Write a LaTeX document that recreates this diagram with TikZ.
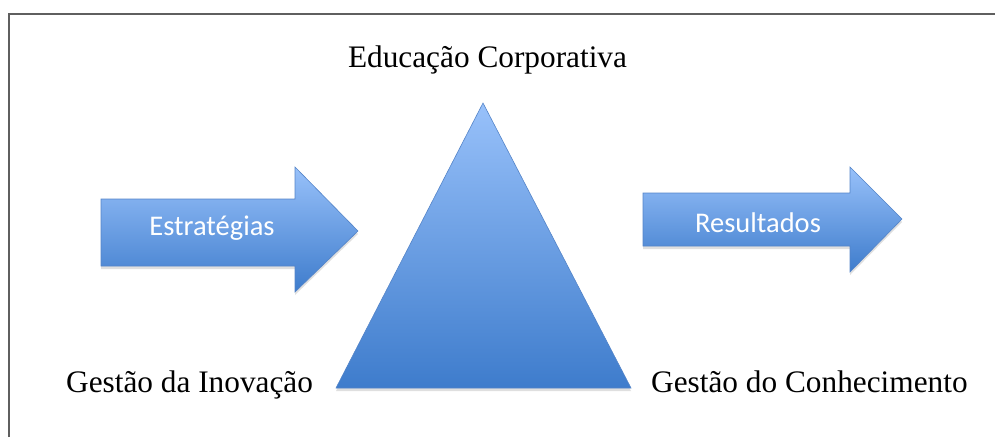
\documentclass[tikz,border=0pt]{standalone}
\usepackage{fontspec}
\setmainfont{Liberation Serif}
\newfontfamily\arrowfont{Carlito}
\usetikzlibrary{shadows}
\definecolor{shapetop}{RGB}{152,193,250}
\definecolor{shapebot}{RGB}{62,124,204}
\definecolor{shapeline}{RGB}{84,132,200}
\definecolor{framegray}{RGB}{95,95,95}
\tikzset{
  bluefill/.style={top color=shapetop, bottom color=shapebot, draw=shapeline, line width=0.6pt, line join=miter,
    drop shadow={opacity=0.25, shadow xshift=0pt, shadow yshift=-3pt}},
  serifl/.style={font=\fontsize{31.3}{35}\selectfont, inner sep=0pt},
  arrowlbl/.style={font=\arrowfont\fontsize{28.5}{31}\selectfont, text=white, inner sep=0pt},
  framestyle/.style={draw=framegray, line width=2pt}
}
\begin{document}
\begin{tikzpicture}[x=1pt,y=-1pt]
\useasboundingbox (0,0) rectangle (995,437);
% frame (top and left edges visible)
\coordinate (fbl) at (8.5,437);
\coordinate (ftl) at (8.5,14);
\coordinate (ftr) at (995,14);
\draw[framestyle] (fbl) -- (ftl) -- (ftr);
% left arrow
\path[bluefill] (101,199) -- (295,199) -- (295,167) -- (358,231) -- (295,292) -- (295,266) -- (101,266) -- cycle;
% right arrow
\path[bluefill] (643,193) -- (850,193) -- (850,167) -- (902,219) -- (850,272) -- (850,246) -- (643,246) -- cycle;
% triangle
\path[bluefill] (483,103) -- (631,388) -- (336,388) -- cycle;
% labels
\node[arrowlbl] (estr) at (212,228) {Estratégias};
\node[arrowlbl] (res) at (758,223) {Resultados};
\node[serifl, anchor=base] (edu) at (487.5,67) {Educação Corporativa};
\node[serifl, anchor=base west] (inov) at (66,392) {Gestão da Inovação};
\node[serifl, anchor=base west] (conh) at (651,392) {Gestão do Conhecimento};
\end{tikzpicture}
\end{document}
